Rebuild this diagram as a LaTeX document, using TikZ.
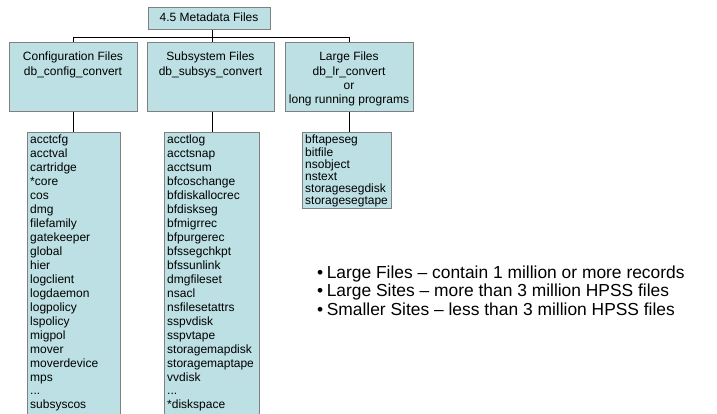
\documentclass[tikz,border=0pt]{standalone}
\usepackage{fontspec}
\setmainfont{Liberation Sans}
\definecolor{boxfill}{HTML}{BCE0E3}
\definecolor{boxline}{HTML}{808080}
\begin{document}
\begin{tikzpicture}[x=1pt,y=-1pt,
  box/.style={draw=boxline,fill=boxfill,line width=0.9pt,inner sep=0pt,anchor=north west},
  txt/.style={font=\fontsize{12}{14.3}\selectfont,inner sep=0pt},
  conn/.style={draw=black,line width=0.9pt}]
\useasboundingbox (0,0) rectangle (717,414);
\begin{scope}
\clip (0,0) rectangle (717,414);
% top box
\node[box,minimum width=122pt,minimum height=22pt] (top) at (148,7) {};
\node[txt,anchor=base] (toptxt) at (209,22) {4.5 Metadata Files};
% second row
\node[box,minimum width=128pt,minimum height=69pt] (c1) at (9,42) {};
\node[box,minimum width=127pt,minimum height=69pt] (c2) at (147,42) {};
\node[box,minimum width=128pt,minimum height=69pt] (c3) at (285,42) {};
\node[txt,anchor=north,align=center] (t1) at (73,52) {Configuration Files\\db\_config\_convert};
\node[txt,anchor=north,align=center] (t2) at (210.5,52) {Subsystem Files\\db\_subsys\_convert};
\node[txt,anchor=north,align=center] (t3) at (349,52) {Large Files\\db\_lr\_convert\\or\\long running programs};
% lists
\node[box,minimum width=93pt,minimum height=300pt] (l1) at (27,132) {};
\node[box,minimum width=95pt,minimum height=300pt] (l2) at (164,132) {};
\node[box,minimum width=89pt,minimum height=76pt] (l3) at (302,132) {};
\node[txt,anchor=north west,align=left,font=\fontsize{12}{13.95}\selectfont] (x1) at (30,135) {acctcfg\\acctval\\cartridge\\*core\\cos\\dmg\\filefamily\\gatekeeper\\global\\hier\\logclient\\logdaemon\\logpolicy\\lspolicy\\migpol\\mover\\moverdevice\\mps\\...\\subsyscos};
\node[txt,anchor=north west,align=left,font=\fontsize{12}{13.95}\selectfont] (x2) at (167,135) {acctlog\\acctsnap\\acctsum\\bfcoschange\\bfdiskallocrec\\bfdiskseg\\bfmigrrec\\bfpurgerec\\bfssegchkpt\\bfssunlink\\dmgfileset\\nsacl\\nsfilesetattrs\\sspvdisk\\sspvtape\\storagemapdisk\\storagemaptape\\vvdisk\\...\\*diskspace};
\node[txt,anchor=north west,align=left,font=\fontsize{12}{12.2}\selectfont] (x3) at (305,135) {bftapeseg\\bitfile\\nsobject\\nstext\\storagesegdisk\\storagesegtape};
\end{scope}
% connectors
\coordinate (j) at (212,37);
\draw[conn] (top.south -| j) -- (j);
\draw[conn] (c1.north |- j) -- (c3.north |- j);
\draw[conn] (c1.north |- j) -- (c1.north);
\draw[conn] (j) -- (j |- c2.north);
\draw[conn] (c3.north |- j) -- (c3.north);
\draw[conn] (c1.south) -- (c1.south |- l1.north);
\draw[conn] (j |- c2.south) -- (j |- l2.north);
\draw[conn] (c3.south) -- (c3.south |- l3.north);
% bullets
\node[anchor=base west,inner sep=0pt,align=left,font=\fontsize{17.4}{18.5}\selectfont] (notes) at (317,315) {\textbullet\hspace{0.2em}Large Files -- contain 1 million or more records\\\textbullet\hspace{0.2em}Large Sites -- more than 3 million HPSS files\\\textbullet\hspace{0.2em}Smaller Sites -- less than 3 million HPSS files};
\end{tikzpicture}
\end{document}
